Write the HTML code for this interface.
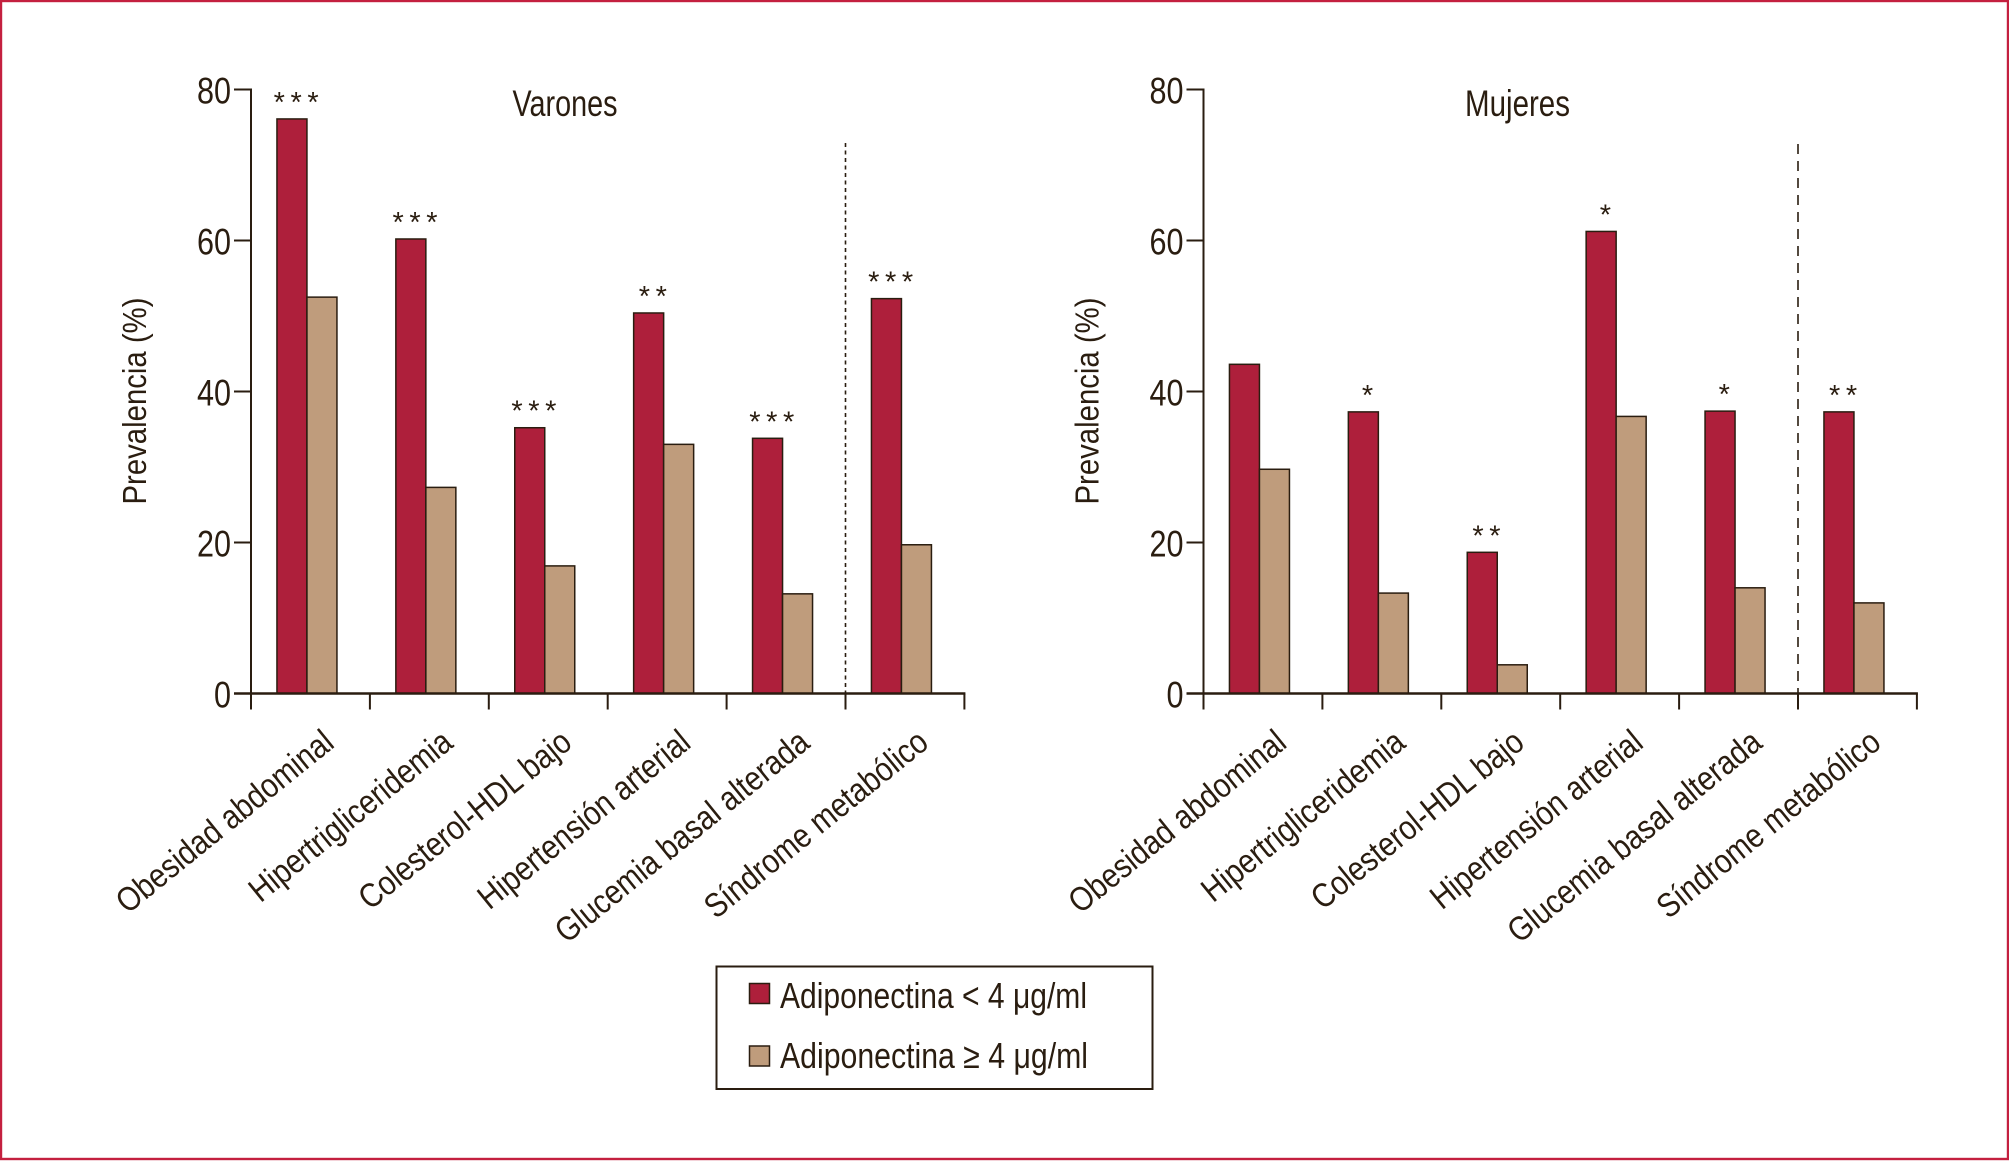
<!DOCTYPE html>
<html lang="es">
<head>
<meta charset="utf-8">
<title>Prevalencia por adiponectina</title>
<style>
html,body{margin:0;padding:0;background:#fff;}
svg{display:block;}
text{font-family:"Liberation Sans",sans-serif;fill:#2a1d10;}
</style>
</head>
<body>
<svg id="figure" xmlns="http://www.w3.org/2000/svg" width="2009" height="1161" viewBox="0 0 2009 1161">
  <rect x="1" y="1" width="2007" height="1158" fill="#fff" stroke="#c4203f" stroke-width="2.4"/>
  <g>
    <rect x="716.5" y="966.5" width="436" height="122.5" fill="#fff" stroke="#2a1d10" stroke-width="2"/>
    <rect x="749.5" y="983.5" width="20" height="20" fill="#ae1f3b" stroke="#2a1d10" stroke-width="1.5"/>
    <text x="780" y="1008" font-size="36" textLength="307" lengthAdjust="spacingAndGlyphs">Adiponectina &lt; 4 μg/ml</text>
    <rect x="749.5" y="1046" width="20" height="20" fill="#bf9c7c" stroke="#2a1d10" stroke-width="1.5"/>
    <text x="780" y="1068" font-size="36" textLength="308" lengthAdjust="spacingAndGlyphs">Adiponectina ≥ 4 μg/ml</text>
  </g>
</svg>
<script>
const categories = ["Obesidad abdominal", "Hipertrigliceridemia", "Colesterol-HDL bajo", "Hipertensión arterial", "Glucemia basal alterada", "Síndrome metabólico"];
const varonesLow = [76.1, 60.2, 35.2, 50.4, 33.8, 52.3];
const varonesHigh = [52.5, 27.3, 16.9, 33.0, 13.2, 19.7];
const varonesStars = [3, 3, 3, 2, 3, 3];
const mujeresLow = [43.6, 37.3, 18.7, 61.2, 37.4, 37.3];
const mujeresHigh = [29.7, 13.3, 3.8, 36.7, 14.0, 12.0];
const mujeresStars = [0, 1, 2, 1, 1, 2];
const yTicks = [0, 20, 40, 60, 80];
const yAxisTitle = "Prevalencia (%)";

const SVG_NS = "http://www.w3.org/2000/svg";
const INK = "#2a1d10";
const figure = document.getElementById("figure");
const Y0 = 693.5, UNIT = 7.55, STEP = 118.9, BAR_W = 30;

function make(parent, tag, attrs, content) {
  const node = document.createElementNS(SVG_NS, tag);
  for (const key in attrs) node.setAttribute(key, attrs[key]);
  if (content !== undefined) node.textContent = content;
  parent.appendChild(node);
  return node;
}

function drawPanel(prefix, title, originX, low, high, stars, dash, dashTop, dashWidth) {
  const yScale = v => Y0 - v * UNIT;
  const tickX = i => originX + i * STEP;
  const groupX = i => originX + (i + 0.5) * STEP - 3.5;

  const panel = make(figure, "g", {});
  
  

  const heading = make(panel, "text", {x: originX + 314, y: 116, "font-size": 37, "text-anchor": "middle", textLength: 105, lengthAdjust: "spacingAndGlyphs"}, title);
  
  

  const yTitle = make(panel, "text", {transform: "translate(" + (originX - 105) + ",401) rotate(-90)", "font-size": 33, "text-anchor": "middle", textLength: 207, lengthAdjust: "spacingAndGlyphs"}, yAxisTitle);
  
  

  categories.forEach((name, i) => {
    const redBar = make(panel, "rect", {x: groupX(i) - BAR_W, y: yScale(low[i]), width: BAR_W, height: Y0 - yScale(low[i]), fill: "#ae1f3b", stroke: INK, "stroke-width": 1.5});
    
    

    const tanBar = make(panel, "rect", {x: groupX(i), y: yScale(high[i]), width: BAR_W, height: Y0 - yScale(high[i]), fill: "#bf9c7c", stroke: INK, "stroke-width": 1.5});
    
    

    if (stars[i] > 0) {
      const mark = make(panel, "text", {x: groupX(i) - BAR_W / 2 + 7, y: yScale(low[i]) - 7, "font-size": 29, "text-anchor": "middle", "letter-spacing": 5.6}, "*".repeat(stars[i]));
      
      
    }

    const label = make(panel, "text", {transform: "translate(" + (tickX(i + 1) - 34) + ",746) rotate(-39) scale(0.86,1)", "font-size": 34, "text-anchor": "end"}, name);
    
    
  });

  const divider = make(panel, "line", {x1: tickX(5), x2: tickX(5), y1: dashTop, y2: Y0, stroke: INK, "stroke-width": dashWidth, "stroke-dasharray": dash});
  
  

  const yAxis = make(panel, "line", {x1: originX, x2: originX, y1: yScale(80) - 1, y2: Y0 + 16, stroke: INK, "stroke-width": 2});
  
  

  const xAxis = make(panel, "line", {x1: originX - 17, x2: tickX(6) + 1, y1: Y0, y2: Y0, stroke: INK, "stroke-width": 2.4});
  
  

  yTicks.forEach(value => {
    const tick = make(panel, "line", {x1: originX - 17, x2: originX, y1: yScale(value), y2: yScale(value), stroke: INK, "stroke-width": 2});
    
    

    const text = String(value);
    const tickLabel = make(panel, "text", {x: originX - 20 - text.length * 17, y: yScale(value) + 14, "font-size": 37, textLength: text.length * 17, lengthAdjust: "spacingAndGlyphs"}, text);
    
    
  });

  for (let i = 0; i <= categories.length; i++) {
    const xTick = make(panel, "line", {x1: tickX(i), x2: tickX(i), y1: Y0, y2: Y0 + 16, stroke: INK, "stroke-width": 2});
    
    
  }
}

drawPanel("varones", "Varones", 251, varonesLow, varonesHigh, varonesStars, "4 3.5", 143, 1.6);
drawPanel("mujeres", "Mujeres", 1203.5, mujeresLow, mujeresHigh, mujeresStars, "10 7", 144, 1.6);
</script>
</body>
</html>
